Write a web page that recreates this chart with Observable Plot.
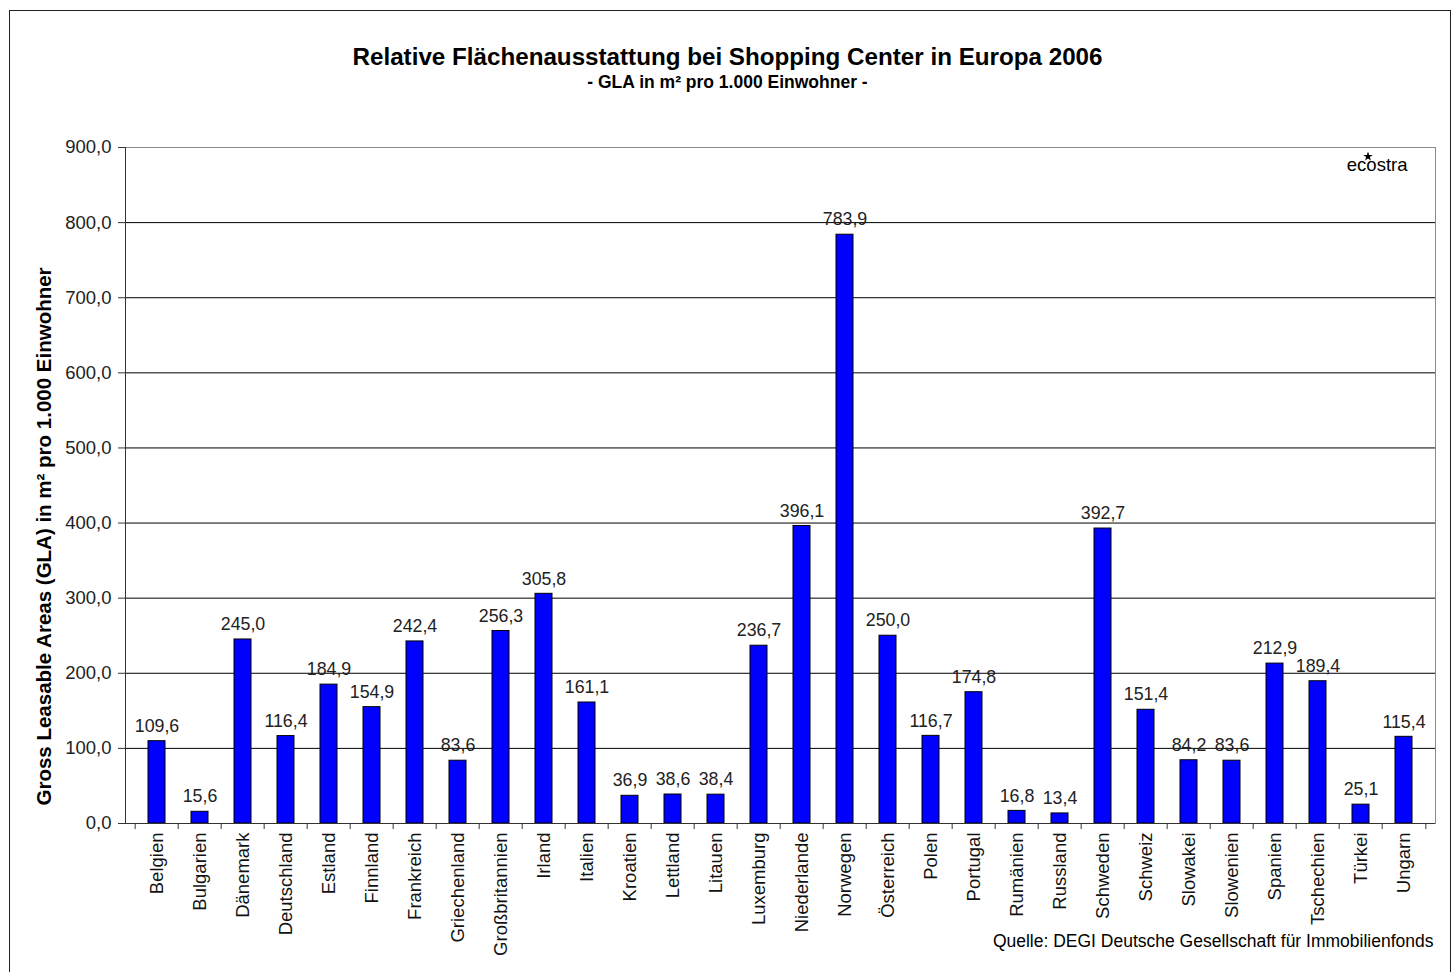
<!DOCTYPE html>
<html>
<head>
<meta charset="utf-8">
<script src="https://cdn.jsdelivr.net/npm/d3@7"></script>
<script src="https://cdn.jsdelivr.net/npm/@observablehq/plot@0.6"></script>
<style>
  html, body { margin: 0; padding: 0; background: #fff; }
  #wrap { position: relative; width: 1455px; height: 972px; overflow: hidden; font-family: "Liberation Sans", Arial, sans-serif; }
  #box { position: absolute; left: 9px; top: 10px; width: 1442px; height: 980px; border: 1.5px solid #222; box-sizing: border-box; }
  #title { position: absolute; left: 0; top: 44px; width: 1455px; text-align: center; font-weight: bold; font-size: 24.2px; line-height: 25px; color: #000; }
  #subtitle { position: absolute; left: 0; top: 73px; width: 1455px; text-align: center; font-weight: bold; font-size: 17.5px; line-height: 19px; color: #000; }
  #chart { position: absolute; left: 0; top: 0; }
</style>
</head>
<body>
<div id="wrap">
  <div id="box"></div>
  <div id="chart"></div>
  <div id="title">Relative Flächenausstattung bei Shopping Center in Europa 2006</div>
  <div id="subtitle">- GLA in m² pro 1.000 Einwohner -</div>
</div>
<script>
const countries = ["Belgien","Bulgarien","Dänemark","Deutschland","Estland","Finnland","Frankreich","Griechenland","Großbritannien","Irland","Italien","Kroatien","Lettland","Litauen","Luxemburg","Niederlande","Norwegen","Österreich","Polen","Portugal","Rumänien","Russland","Schweden","Schweiz","Slowakei","Slowenien","Spanien","Tschechien","Türkei","Ungarn"];
const values = [109.6,15.6,245.0,116.4,184.9,154.9,242.4,83.6,256.3,305.8,161.1,36.9,38.6,38.4,236.7,396.1,783.9,250.0,116.7,174.8,16.8,13.4,392.7,151.4,84.2,83.6,212.9,189.4,25.1,115.4];
const yTicks = [0,100,200,300,400,500,600,700,800,900];
const yTitle = "Gross Leasable Areas (GLA) in m² pro 1.000 Einwohner";
const logo = "ecostra";
const source = "Quelle: DEGI Deutsche Gesellschaft für Immobilienfonds";

const data = countries.map((c, i) => ({country: c, value: values[i]}));
const fmt = d3.formatLocale({decimal: ",", thousands: ".", grouping: [3], currency: ["", "€"]}).format(".1f");

const W = 1455, H = 972, mL = 125, mR = 20, mT = 147, mB = 149;
const step = (W - mL - mR) / countries.length;

const chart = Plot.plot({
  width: W, height: H,
  marginTop: mT, marginLeft: mL, marginRight: mR, marginBottom: mB,
  style: {fontFamily: "'Liberation Sans', Arial, sans-serif", fontSize: "18px", color: "#000", background: "transparent", overflow: "visible"},
  x: {domain: countries, paddingInner: 0.61, paddingOuter: 0.305},
  y: {domain: [0, 900]},
  marks: [
    Plot.ruleY(yTicks.filter(d => d > 0 && d < 900), {stroke: "#000", strokeWidth: 1}),
    Plot.frame({stroke: "#8a8a8a"}),
    Plot.barY(data, {x: "country", y: "value", fill: "#0000ff", stroke: "#000", strokeWidth: 1}),
    Plot.text(data, {x: "country", y: "value", text: d => fmt(d.value), dy: -15, fontSize: 17.8, fill: "#222"}),
    Plot.frame({anchor: "left", stroke: "#333"}),
    Plot.ruleY([0], {stroke: "#333"}),
    Plot.axisY({ticks: yTicks, tickFormat: fmt, tickSize: 7, tickPadding: 7, fontSize: 18.5, label: null, stroke: "#333", fill: "#222"}),
    Plot.axisX({tickSize: 0, tickRotate: -90, tickPadding: 9, fontSize: 18.5, label: null, fill: "#111"}),
    Plot.axisX({tickSize: 6, tickFormat: () => "", dx: -step / 2, label: null, stroke: "#333"}),
    Plot.axisX({ticks: [countries[countries.length - 1]], tickSize: 6, tickFormat: () => "", dx: step / 2, label: null, stroke: "#333"}),
    Plot.text([yTitle], {frameAnchor: "bottom-left", rotate: -90, textAnchor: "start", lineAnchor: "middle", dx: -81, dy: -18, fontWeight: "bold", fontSize: 20.5}),
    Plot.text([logo], {frameAnchor: "top-right", textAnchor: "end", lineAnchor: "middle", dx: -28, dy: 18, fontSize: 18.5}),
    Plot.dot([logo], {frameAnchor: "top-right", symbol: "star", r: 3, fill: "#000", dx: -67.5, dy: 9}),
    Plot.text([source], {frameAnchor: "bottom-right", textAnchor: "end", lineAnchor: "middle", dx: -2, dy: 118, fontSize: 17.5})
  ]
});
document.getElementById("chart").appendChild(chart);
</script>
</body>
</html>
